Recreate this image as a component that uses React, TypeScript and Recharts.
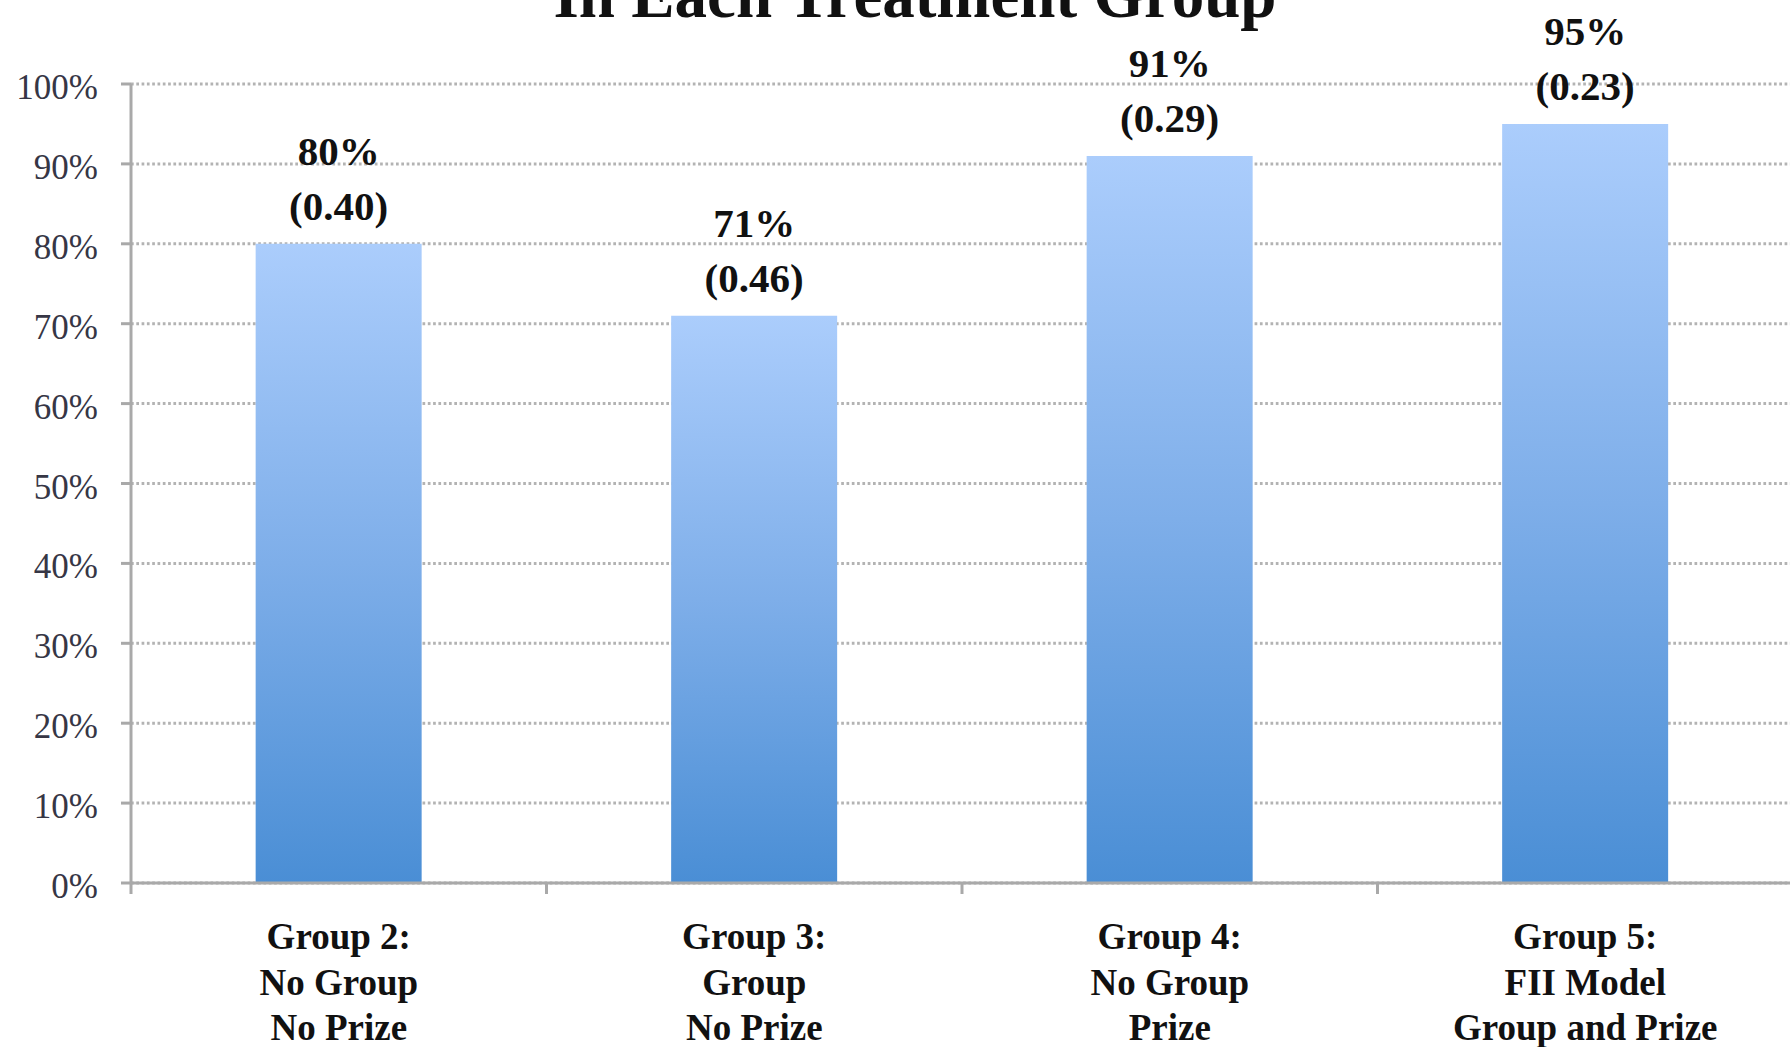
import { BarChart, Bar, XAxis, YAxis, CartesianGrid, LabelList } from "recharts";

const groups = [
  "Group 2:|No Group|No Prize",
  "Group 3:|Group|No Prize",
  "Group 4:|No Group|Prize",
  "Group 5:|FII Model|Group and Prize",
];
const rates = [80, 71, 91, 95];
const stdDevs = ["0.40", "0.46", "0.29", "0.23"];
const yTicks = [0, 10, 20, 30, 40, 50, 60, 70, 80, 90, 100];

const data = groups.map((g, i) => ({ group: g, rate: rates[i], sd: stdDevs[i] }));

const FONT = "'Liberation Serif', 'Times New Roman', serif";
const W = 1800;
const H = 1100;
const LEFT = 131;
const RIGHT = 7;
const BAND = (W - LEFT - RIGHT) / groups.length;
const AXIS_GRAY = "#a9a9a9";

function GroupTick(props: any) {
  const { x, y, payload } = props;
  const lines = String(payload.value).split("|");
  return (
    <g>
      <line x1={x - BAND / 2} x2={x - BAND / 2} y1={y} y2={y + 11} stroke={AXIS_GRAY} strokeWidth={3} />
      <text textAnchor="middle" fontFamily={FONT} fontSize={37} fontWeight="bold" fill="#111">
        {lines.map((l, i) => (
          <tspan key={i} x={x} y={y + 66 + i * 45.5}>
            {l}
          </tspan>
        ))}
      </text>
    </g>
  );
}

function PercentTick(props: any) {
  const { x, y, payload } = props;
  return (
    <text x={x} y={y + 15} textAnchor="end" fontFamily={FONT} fontSize={35} fill="#363645">
      {`${payload.value}%`}
    </text>
  );
}

function ValueLabel(props: any) {
  const { x, y, width, index } = props;
  const cx = x + width / 2;
  return (
    <text textAnchor="middle" fontFamily={FONT} fontSize={41} fontWeight="bold" fill="#111">
      <tspan x={cx} y={y - 79}>{`${rates[index]}%`}</tspan>
      <tspan x={cx} y={y - 24}>{`(${stdDevs[index]})`}</tspan>
    </text>
  );
}

export default function App() {
  return (
    <div
      style={{
        position: "absolute",
        left: 0,
        top: 0,
        width: 1790,
        height: 1047,
        overflow: "hidden",
        background: "#fff",
      }}
    >
      <BarChart
        width={W}
        height={H}
        data={data}
        margin={{ top: 84, right: RIGHT, left: 0, bottom: 0 }}
        barCategoryGap="30%"
      >
        <defs>
          <linearGradient id="barGrad" x1="0" y1="0" x2="0" y2="1">
            <stop offset="0%" stopColor="#abcdfc" />
            <stop offset="50%" stopColor="#7eaee9" />
            <stop offset="100%" stopColor="#4a8ed5" />
          </linearGradient>
        </defs>
        <CartesianGrid vertical={false} stroke="#b3b3b3" strokeWidth={3} strokeDasharray="2.7 2.6" />
        <XAxis
          dataKey="group"
          height={H - 883}
          interval={0}
          tickLine={false}
          tickSize={0}
          tickMargin={0}
          axisLine={{ stroke: AXIS_GRAY, strokeWidth: 3 }}
          tick={<GroupTick />}
        />
        <YAxis
          width={LEFT}
          domain={[0, 100]}
          ticks={yTicks}
          interval={0}
          tickSize={10}
          tickMargin={23}
          axisLine={{ stroke: AXIS_GRAY, strokeWidth: 3 }}
          tickLine={{ stroke: AXIS_GRAY, strokeWidth: 3 }}
          tick={<PercentTick />}
        />
        <Bar dataKey="rate" fill="url(#barGrad)" isAnimationActive={false}>
          <LabelList dataKey="rate" content={<ValueLabel />} />
        </Bar>
      </BarChart>
      <svg
        width={1790}
        height={60}
        style={{ position: "absolute", left: 0, top: 0 }}
      >
        <text x={915} y={17} textAnchor="middle" fontFamily={FONT} fontSize={65} fontWeight="bold" fill="#111">
          In Each Treatment Group
        </text>
      </svg>
    </div>
  );
}
